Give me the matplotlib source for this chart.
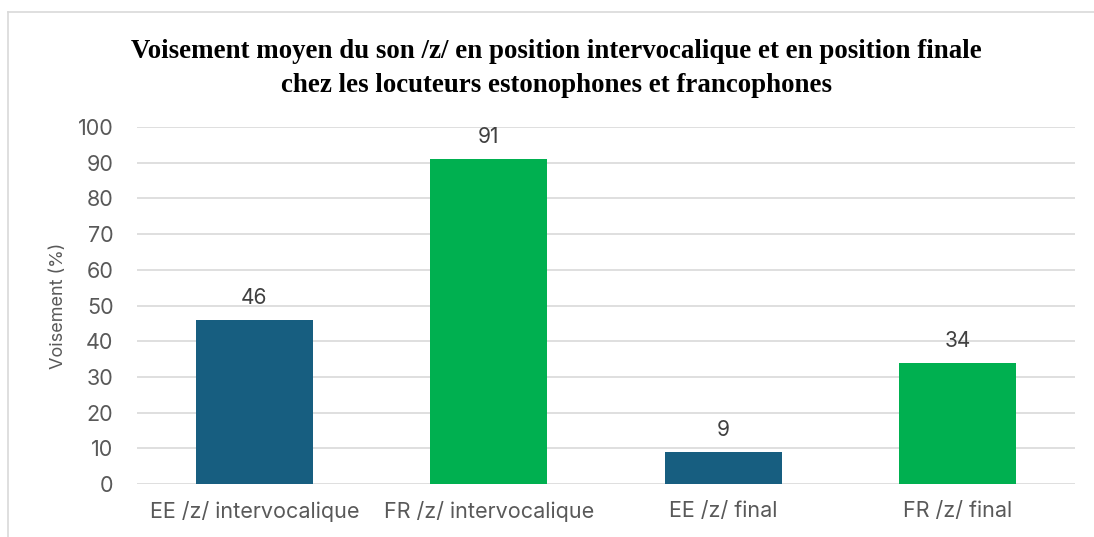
import matplotlib as mpl
mpl.use('agg')
import matplotlib.pyplot as plt
from matplotlib.lines import Line2D

categories = ['EE /z/ intervocalique', 'FR /z/ intervocalique', 'EE /z/ final', 'FR /z/ final']
values = [46, 91, 9, 34]
colors = ['#175E80', '#00B050', '#175E80', '#00B050']
yticks = [0, 10, 20, 30, 40, 50, 60, 70, 80, 90, 100]

plt.rcParams['font.family'] = ['Inter', 'DejaVu Sans']

fig = plt.figure(figsize=(10.94, 5.37), dpi=100)
ax = fig.add_axes([137 / 1094, 1 - 484 / 537, (1075 - 137) / 1094, (484 - 127) / 537])

x = range(len(categories))
bars = ax.bar(x, values, width=0.5, color=colors, zorder=3)
for b, v in zip(bars, values):
    ax.text(b.get_x() + b.get_width() / 2, v + 3.3, str(v), ha='center', va='bottom',
            fontsize=15, color='#404040')

ax.set_xlim(-0.5, len(categories) - 0.5)
ax.set_ylim(0, 100)
ax.set_yticks(yticks)
ax.set_xticks(list(x))
ax.set_xticklabels(categories)
ax.tick_params(axis='both', length=0, labelsize=15.5, colors='#595959')
ax.tick_params(axis='y', pad=17)
ax.tick_params(axis='x', pad=12)
ax.grid(axis='y', color='#D9D9D9', linewidth=1.2, zorder=0)
for s in ax.spines.values():
    s.set_visible(False)
ax.set_ylabel('Voisement (%)', fontsize=13, color='#595959', labelpad=8)

fig.text(0.509, 0.872, 'Voisement moyen du son /z/ en position intervocalique et en position finale\n'
         'chez les locuteurs estonophones et francophones',
         ha='center', va='center', fontsize=19.4, fontweight='bold',
         family=['Liberation Serif', 'DejaVu Serif'], linespacing=1.45)

# chart frame
fig.add_artist(Line2D([8 / 1094, 1], [1 - 12 / 537, 1 - 12 / 537], color='#D9D9D9', lw=1.2,
                      transform=fig.transFigure))
fig.add_artist(Line2D([8 / 1094, 8 / 1094], [0, 1 - 12 / 537], color='#D9D9D9', lw=1.2,
                      transform=fig.transFigure))

fig.savefig('out.png', dpi=100)
